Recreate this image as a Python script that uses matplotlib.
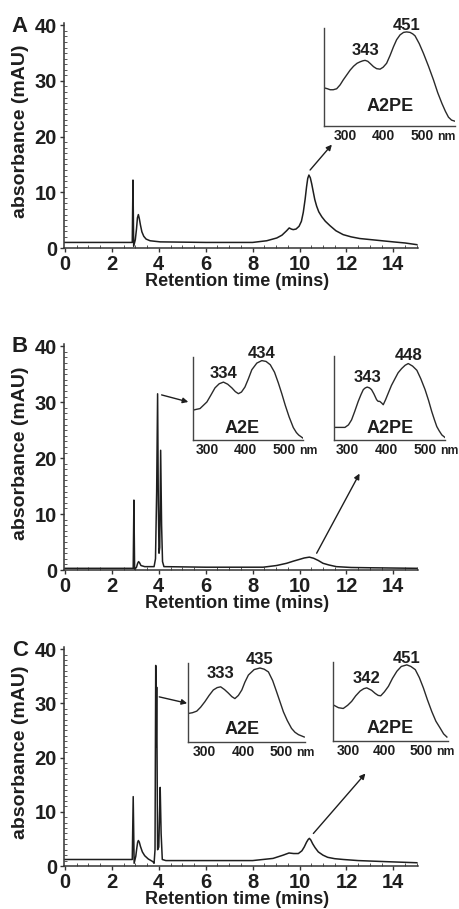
import matplotlib
matplotlib.use("Agg")
import matplotlib.pyplot as plt
from matplotlib.ticker import MultipleLocator, FixedLocator

plt.rcParams['font.family'] = ['Liberation Sans', 'DejaVu Sans']
plt.rcParams['font.weight'] = 'bold'

# ---------------- chromatograms (retention time, mins / absorbance, mAU) ----------------
a_time = [0.0, 2.87, 2.90, 2.93, 3.00, 3.05, 3.09, 3.13, 3.17, 3.22, 3.28, 3.36, 3.46,
          3.63, 4.06, 6.0, 8.0, 8.6, 9.03, 9.25, 9.45, 9.56, 9.65, 9.73, 9.85, 9.98,
          10.08, 10.16, 10.24, 10.30, 10.35, 10.40, 10.46, 10.52, 10.58, 10.65, 10.73,
          10.82, 10.95, 11.1, 11.3, 11.55, 11.86, 12.2, 12.57, 13.28, 13.99, 14.5, 15.0]
a_abs = [1.0, 1.0, 12.2, 0.3, 1.5, 3.4, 5.4, 6.0, 5.3, 4.1, 2.9, 2.1, 1.6,
         1.3, 1.1, 1.0, 1.0, 1.3, 1.8, 2.3, 3.1, 3.6, 3.4, 3.3, 3.4, 3.9,
         4.8, 6.4, 8.8, 11.0, 12.5, 13.1, 12.6, 11.5, 10.2, 8.7, 7.5,
         6.5, 5.6, 4.8, 4.0, 3.1, 2.4, 2.0, 1.7, 1.4, 1.1, 0.9, 0.6]

b_time = [0.0, 2.91, 2.94, 2.97, 3.05, 3.10, 3.14, 3.18, 3.24, 3.40, 3.80, 3.86, 3.91,
          3.95, 3.98, 4.01, 4.04, 4.08, 4.12, 4.16, 4.22, 6.0, 8.45, 9.02, 9.45, 9.75,
          10.0, 10.2, 10.42, 10.6, 10.8, 11.0, 11.25, 11.57, 12.2, 13.0, 15.0]
b_abs = [0.3, 0.3, 12.5, 0.1, 0.5, 1.2, 1.5, 1.3, 0.8, 0.6, 0.6, 2.0, 14.0,
         31.5, 12.0, 3.0, 4.0, 21.4, 8.0, 1.5, 0.6, 0.5, 0.5, 0.8, 1.2, 1.6,
         1.9, 2.15, 2.3, 2.1, 1.7, 1.2, 0.9, 0.6, 0.45, 0.4, 0.3]

c_time = [0.0, 2.87, 2.91, 2.95, 3.02, 3.06, 3.10, 3.13, 3.17, 3.22, 3.30, 3.40, 3.55,
          3.75, 3.80, 3.84, 3.87, 3.89, 3.91, 3.95, 4.00, 4.03, 4.06, 4.10, 4.15, 4.30,
          6.0, 8.0, 8.87, 9.30, 9.55, 9.75, 9.95, 10.1, 10.2, 10.3, 10.37, 10.42, 10.48,
          10.56, 10.66, 10.8, 11.0, 11.2, 11.5, 11.87, 12.5, 13.7, 15.0]
c_abs = [1.2, 1.2, 12.8, 0.5, 1.8, 3.2, 4.4, 4.7, 4.4, 3.6, 2.6, 1.9, 1.3,
         0.8, 0.5, 3.0, 37.0, 22.0, 33.0, 3.0, 3.5, 9.0, 14.5, 6.0, 1.2, 1.0,
         1.0, 1.0, 1.4, 2.0, 2.4, 2.3, 2.3, 2.8, 3.5, 4.4, 4.9, 5.1, 4.8,
         4.1, 3.4, 2.6, 2.0, 1.6, 1.35, 1.2, 1.0, 0.8, 0.6]

# ---------------- UV-vis spectra (wavelength, nm / relative absorbance) ----------------
a_a2pe_wl = [236, 245, 252, 260, 269, 278, 286, 295, 304, 313, 322, 330, 337, 343, 350,
             357, 365, 373, 382, 390, 399, 408, 417, 425, 434, 443, 451, 460, 467, 473,
             484, 495, 508, 521, 532, 543, 552, 560, 568, 576]
a_a2pe_ab = [0.39, 0.38, 0.37, 0.37, 0.38, 0.42, 0.47, 0.52, 0.57, 0.61, 0.64, 0.655,
             0.665, 0.67, 0.66, 0.635, 0.605, 0.585, 0.58, 0.60, 0.64, 0.72, 0.81, 0.88,
             0.93, 0.955, 0.96, 0.955, 0.94, 0.92, 0.84, 0.74, 0.61, 0.47, 0.34, 0.23,
             0.15, 0.09, 0.06, 0.05]

b_a2e_wl = [254, 263, 273, 282, 291, 301, 312, 323, 334, 345, 356, 365, 373, 381, 390,
            399, 408, 421, 434, 445, 456, 467, 477, 486, 495, 505, 516, 524, 530, 542]
b_a2e_ab = [0.36, 0.37, 0.38, 0.42, 0.46, 0.54, 0.63, 0.68, 0.70, 0.675, 0.63, 0.585,
            0.56, 0.58, 0.64, 0.74, 0.85, 0.93, 0.96, 0.95, 0.91, 0.82, 0.69, 0.56,
            0.42, 0.28, 0.15, 0.09, 0.06, 0.02]

b_a2pe_wl = [258, 272, 286, 295, 303, 311, 320, 327, 333, 338, 343, 349, 354, 360, 367,
             371, 375, 380, 384, 390, 397, 405, 414, 422, 431, 440, 448, 459, 470, 480,
             491, 500, 508, 515, 521, 527, 534, 542]
b_a2pe_ab = [0.15, 0.15, 0.15, 0.18, 0.24, 0.34, 0.46, 0.54, 0.60, 0.62, 0.63, 0.62,
             0.60, 0.55, 0.48, 0.46, 0.46, 0.44, 0.42, 0.48, 0.56, 0.65, 0.73, 0.80,
             0.85, 0.89, 0.91, 0.88, 0.83, 0.73, 0.60, 0.47, 0.34, 0.24, 0.16, 0.11,
             0.06, 0.03]

c_a2e_wl = [249, 260, 271, 281, 292, 303, 314, 324, 333, 343, 353, 362, 370, 379, 388,
            396, 405, 420, 435, 446, 457, 468, 478, 487, 496, 506, 517, 526, 535, 550]
c_a2e_ab = [0.36, 0.37, 0.39, 0.44, 0.51, 0.59, 0.66, 0.69, 0.70, 0.665, 0.62, 0.575,
            0.55, 0.59, 0.66, 0.76, 0.85, 0.92, 0.94, 0.925, 0.89, 0.78, 0.64, 0.51,
            0.38, 0.27, 0.17, 0.12, 0.09, 0.06]

c_a2pe_wl = [253, 265, 278, 290, 301, 312, 324, 334, 342, 355, 365, 373, 380, 390, 401,
             412, 424, 436, 451, 462, 474, 485, 496, 507, 519, 530, 542, 551, 560]
c_a2pe_ab = [0.45, 0.42, 0.41, 0.45, 0.50, 0.57, 0.63, 0.66, 0.67, 0.64, 0.60, 0.575,
             0.57, 0.62, 0.69, 0.79, 0.88, 0.94, 0.96, 0.94, 0.90, 0.80, 0.67, 0.52,
             0.37, 0.25, 0.16, 0.09, 0.05]

# peak maxima quoted on each spectrum
a_a2pe_peaks = [343, 451]
b_a2e_peaks = [334, 434]
b_a2pe_peaks = [343, 448]
c_a2e_peaks = [333, 435]
c_a2pe_peaks = [342, 451]

y_ticks = [0, 10, 20, 30, 40]
x_ticks = [0, 2, 4, 6, 8, 10, 12, 14]
nm_ticks = [300, 400, 500]
nm_labels = ['300', '400', '500']

W, H = 460, 909
fig = plt.figure(figsize=(W / 100, H / 100), dpi=100)
fig.patch.set_facecolor('white')
INK = '#1e1e1e'


def rect(left, top, right, bottom):
    return [left / W, 1 - bottom / H, (right - left) / W, (bottom - top) / H]


def chromatogram(top, bottom, t, v, letter):
    ax = fig.add_axes(rect(64, top, 418, bottom))
    ax.plot(t, v, color=INK, lw=1.1, solid_joinstyle='round')
    ax.set_xlim(-0.04, 15.05)
    ax.set_ylim(0, 40.4)
    for s in ('top', 'right'):
        ax.spines[s].set_visible(False)
    for s in ('left', 'bottom'):
        ax.spines[s].set_linewidth(1.1)
        ax.spines[s].set_color('#333333')
    ax.xaxis.set_major_locator(FixedLocator(x_ticks))
    ax.yaxis.set_major_locator(FixedLocator(y_ticks))
    ax.xaxis.set_minor_locator(MultipleLocator(0.5))
    ax.yaxis.set_minor_locator(MultipleLocator(1))
    ax.tick_params(which='major', direction='out', length=3, width=1, color='#333333',
                   labelsize=14.5, pad=2)
    ax.tick_params(which='minor', direction='in', length=2, width=0.7, color='#555555')
    for lab in ax.get_xticklabels() + ax.get_yticklabels():
        lab.set_fontweight('bold')
        lab.set_color(INK)
    mid = (top + bottom) / 2
    fig.text(20.7 / W, 1 - (mid - 4) / H, 'absorbance (mAU)', rotation=90, ha='center',
             va='center', fontsize=14, fontweight='bold', color=INK)
    fig.text(237 / W, 1 - (bottom + 34) / H, 'Retention time (mins)', ha='center',
             va='center', fontsize=13, fontweight='bold', color=INK)
    fig.text(20 / W, 1 - (top + 3) / H, letter, ha='center', va='center', fontsize=16,
             fontweight='bold', color=INK)
    return ax


def spectrum(box, xlim, wl, ab, peaks, name, name_x, name_y=0.16, peak_y=(0.78, 1.04)):
    ax = fig.add_axes(rect(*box))
    ax.plot(wl, ab, color='#2a2a2a', lw=1.0, solid_joinstyle='round')
    ax.set_xlim(*xlim)
    ax.set_ylim(0, 1)
    for s in ('top', 'right'):
        ax.spines[s].set_visible(False)
    for s in ('left', 'bottom'):
        ax.spines[s].set_linewidth(1.0)
        ax.spines[s].set_color('#444444')
    ax.set_yticks([])
    ax.set_xticks([])
    # wavelength labels under the bottom spine, unit after the last one
    for n, lab in zip(nm_ticks, nm_labels):
        ax.annotate(lab, xy=(n, 0), xycoords=('data', 'axes fraction'),
                    xytext=(-2.5, -10.3), textcoords='offset points', ha='center',
                    va='baseline', fontsize=10, fontweight='bold', color=INK,
                    annotation_clip=False)
    ax.annotate('nm', xy=(nm_ticks[-1], 0), xycoords=('data', 'axes fraction'),
                xytext=(8.3, -10.3), textcoords='offset points', ha='left',
                va='baseline', fontsize=8.8, fontweight='bold', color=INK,
                annotation_clip=False)
    for p, py in zip(peaks, peak_y):
        ax.text(p, py, str(p), ha='center', va='center', fontsize=12,
                fontweight='bold', color=INK, clip_on=False)
    ax.text(name_x, name_y, name, ha='center', va='center', fontsize=13,
            fontweight='bold', color=INK)
    return ax


def pointer(ax_main, start, ax_in, tip):
    ax_main.annotate('', xy=tip, xycoords=ax_in.transAxes, xytext=start,
                     textcoords='data', annotation_clip=False,
                     arrowprops=dict(arrowstyle='-|>', lw=1.0, color=INK,
                                     mutation_scale=8, shrinkA=0, shrinkB=0))


# Panel A
axA = chromatogram(23, 248, a_time, a_abs, 'A')
inA = spectrum((324, 28, 455, 126), (236, 577), a_a2pe_wl, a_a2pe_ab, a_a2pe_peaks,
               'A2PE', 408, name_y=0.2, peak_y=(0.77, 1.03))
pointer(axA, (10.45, 14.0), inA, (0.06, -0.19))

# Panel B
axB = chromatogram(344, 570, b_time, b_abs, 'B')
inB1 = spectrum((192.7, 357.3, 303.3, 440), (254, 542), b_a2e_wl, b_a2e_ab, b_a2e_peaks,
                'A2E', 382, name_y=0.14, peak_y=(0.81, 1.05))
inB2 = spectrum((334, 356, 445, 440), (258, 542), b_a2pe_wl, b_a2pe_ab, b_a2pe_peaks,
                'A2PE', 401, name_y=0.14, peak_y=(0.75, 1.01))
pointer(axB, (4.12, 31.3), inB1, (-0.04, 0.46))
pointer(axB, (10.73, 3.0), inB2, (0.23, -0.40))

# Panel C
axC = chromatogram(647, 866, c_time, c_abs, 'C')
inC1 = spectrum((188.3, 663.3, 305, 741.7), (249, 552), c_a2e_wl, c_a2e_ab, c_a2e_peaks,
                'A2E', 388, name_y=0.15, peak_y=(0.87, 1.05))
inC2 = spectrum((333.3, 661.7, 448, 741), (251, 563), c_a2pe_wl, c_a2pe_ab, c_a2pe_peaks,
                'A2PE', 405, name_y=0.16, peak_y=(0.79, 1.04))
pointer(axC, (4.02, 31.2), inC1, (-0.01, 0.49))
pointer(axC, (10.59, 6.0), inC2, (0.28, -0.41))

fig.savefig('out.png', dpi=100, facecolor='white')
